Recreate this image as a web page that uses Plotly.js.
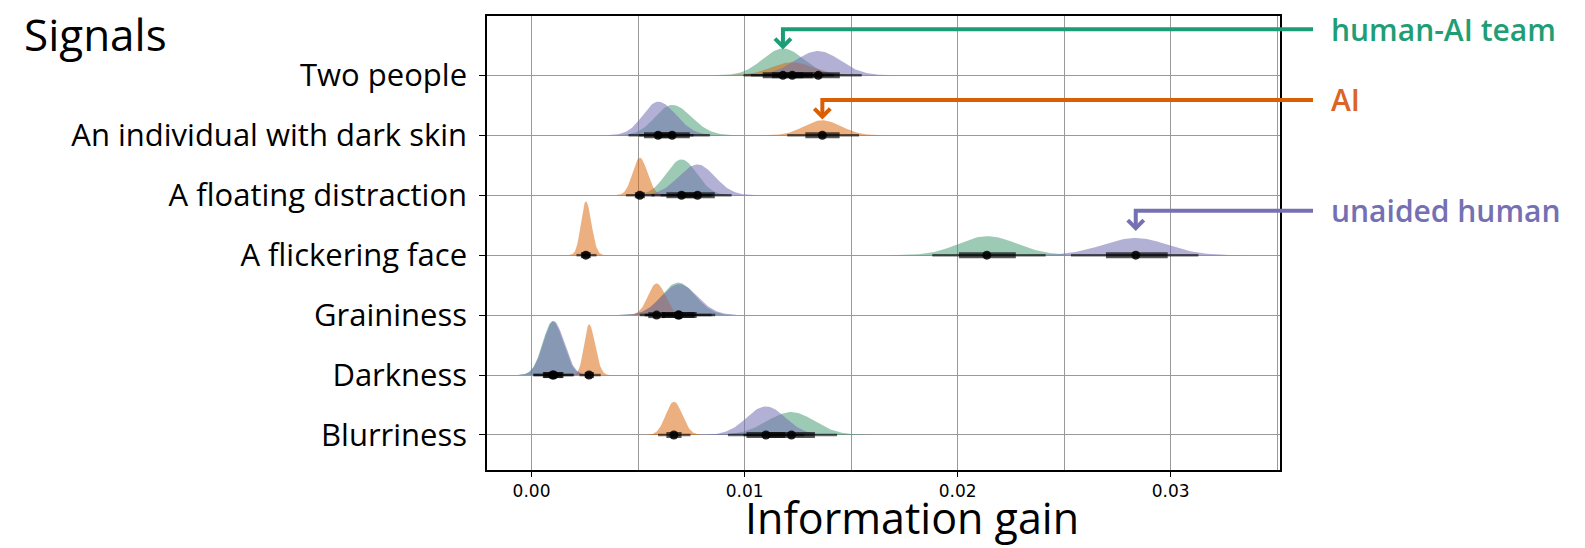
<!DOCTYPE html>
<html>
<head>
<meta charset="utf-8">
<script src="https://cdn.plot.ly/plotly-3.0.1.min.js"></script>
<style>
body { margin: 0; background: #fff; }
#signals-viz { width: 1585px; height: 548px; }
</style>
</head>
<body>
<div id="signals-viz"></div>
<script>
// signals, bottom row first
var signals = ['Blurriness', 'Darkness', 'Graininess', 'A flickering face',
               'A floating distraction', 'An individual with dark skin', 'Two people'];

// information gain: median, 95% and 66% intervals
var team_med  = [0.0122, 0.00099, 0.00688, 0.02137, 0.00704, 0.0066, 0.0118];
var team_lo95 = [0.00995, 0.00008, 0.00535, 0.01881, 0.00563, 0.00505, 0.00995];
var team_hi95 = [0.01434, 0.00195, 0.00845, 0.02413, 0.00845, 0.00837, 0.0137];
var team_lo66 = [0.0111, 0.00053, 0.00612, 0.02006, 0.00633, 0.00585, 0.01085];
var team_hi66 = [0.0133, 0.00146, 0.00765, 0.02273, 0.00775, 0.00743, 0.01275];

var ai_med  = [0.00668, 0.0027, 0.00587, 0.00255, 0.00508, 0.01365, 0.01224];
var ai_lo95 = [0.00594, 0.00225, 0.00508, 0.00211, 0.00443, 0.012, 0.0103];
var ai_hi95 = [0.00746, 0.00325, 0.00668, 0.00305, 0.00578, 0.01537, 0.0142];
var ai_lo66 = [0.00633, 0.0025, 0.00548, 0.00232, 0.00485, 0.01285, 0.01128];
var ai_hi66 = [0.00704, 0.00293, 0.00626, 0.00278, 0.00532, 0.01446, 0.0132];

var human_med  = [0.011, 0.00104, 0.00693, 0.02836, 0.00779, 0.00594, 0.01346];
var human_lo95 = [0.00922, 0.0001, 0.0053, 0.02532, 0.00606, 0.00455, 0.0113];
var human_hi95 = [0.0128, 0.002, 0.00862, 0.0313, 0.00939, 0.0076, 0.0155];
var human_lo66 = [0.01009, 0.00056, 0.00612, 0.02696, 0.00697, 0.00528, 0.0124];
var human_hi66 = [0.0119, 0.0015, 0.00775, 0.02986, 0.0086, 0.0067, 0.01447];

var groups = [
	{ name: 'human-AI team', color: '#1b9e77', fill: 'rgba(59,150,108,0.5)', label: '#1f9e76',
	  med: team_med, lo95: team_lo95, hi95: team_hi95, lo66: team_lo66, hi66: team_hi66 },
	{ name: 'AI', color: '#d95f02', fill: 'rgba(217,95,2,0.5)', label: '#dc6424',
	  med: ai_med, lo95: ai_lo95, hi95: ai_hi95, lo66: ai_lo66, hi66: ai_hi66 },
	{ name: 'unaided human', color: '#7570b3', fill: 'rgba(117,112,179,0.55)', label: '#7570b3',
	  med: human_med, lo95: human_lo95, hi95: human_hi95, lo66: human_lo66, hi66: human_hi66 }
];

var xRange = [-0.00209, 0.03513];
var yRange = [-0.584, 6.99];
var FONT = '"Open Sans", "Noto Sans", sans-serif';

// half-eye density for one signal; equal area within a group, tallest = 0.9 of a row
function halfEye(g, i, k) {
	var med = g.med[i];
	var sdL = (med - g.lo95[i]) / 1.96, sdR = (g.hi95[i] - med) / 1.96;
	var peak = k / (sdL + sdR);
	var xs = [], ys = [], n = 50, z;
	for (var j = 0; j <= n; j++) {
		z = -3.5 + 3.5 * j / n;
		xs.push(med + z * sdL); ys.push(i + peak * Math.exp(-z * z / 2));
	}
	for (j = 1; j <= n; j++) {
		z = 3.5 * j / n;
		xs.push(med + z * sdR); ys.push(i + peak * Math.exp(-z * z / 2));
	}
	return {
		x: xs, y: ys, type: 'scatter', mode: 'lines', fill: 'toself',
		fillcolor: g.fill, line: { width: 0 }, hoverinfo: 'none', showlegend: false
	};
}

var data = [];
groups.forEach(function(g) {
	var minW = Infinity;
	g.med.forEach(function(m, i) {
		minW = Math.min(minW, (m - g.lo95[i]) / 1.96 + (g.hi95[i] - m) / 1.96);
	});
	var k = 0.9 * minW;
	g.med.forEach(function(m, i) { data.push(halfEye(g, i, k)); });
});

// point intervals on top
groups.forEach(function(g) {
	var x95 = [], y95 = [], x66 = [], y66 = [], ypt = [];
	g.med.forEach(function(m, i) {
		x95.push(g.lo95[i], g.hi95[i], null); y95.push(i, i, null);
		x66.push(g.lo66[i], g.hi66[i], null); y66.push(i, i, null);
		ypt.push(i);
	});
	data.push({ x: x95, y: y95, type: 'scatter', mode: 'lines', hoverinfo: 'none', showlegend: false,
		line: { color: 'rgba(0,0,0,0.6)', width: 2.5 } });
	data.push({ x: x66, y: y66, type: 'scatter', mode: 'lines', hoverinfo: 'none', showlegend: false,
		line: { color: 'rgba(0,0,0,0.65)', width: 6 } });
	data.push({ x: g.med, y: ypt, type: 'scatter', mode: 'markers', hoverinfo: 'none', showlegend: false,
		marker: { color: 'rgba(0,0,0,0.85)', size: 9 } });
});

// callout arrows: which signal each label points at, and where the elbow sits
var callouts = [
	{ g: 0, row: 6, yLine: 6.77, yTip: 6.48 },
	{ g: 1, row: 5, yLine: 5.59, yTip: 5.31 },
	{ g: 2, row: 3, yLine: 3.74, yTip: 3.45 }
];
var plotW = 793, plotH = 454;
function px(x) { return (x - xRange[0]) / (xRange[1] - xRange[0]); }
function py(y) { return (y - yRange[0]) / (yRange[1] - yRange[0]); }

var shapes = [], annotations = [];
callouts.forEach(function(c) {
	var g = groups[c.g];
	var xa = px(g.med[c.row]), yl = py(c.yLine), yt = py(c.yTip);
	var xEnd = 1 + 33 / plotW;
	var ax = 8 / plotW, ay = 8 / plotH;
	shapes.push({ type: 'path', xref: 'paper', yref: 'paper', layer: 'above',
		path: 'M ' + xEnd + ',' + yl + ' L ' + xa + ',' + yl + ' L ' + xa + ',' + yt,
		line: { color: g.color, width: 4 } });
	shapes.push({ type: 'path', xref: 'paper', yref: 'paper', layer: 'above',
		path: 'M ' + (xa - ax) + ',' + (yt + ay) + ' L ' + xa + ',' + yt + ' L ' + (xa + ax) + ',' + (yt + ay),
		line: { color: g.color, width: 4 } });
	annotations.push({ xref: 'paper', yref: 'paper', x: 1 + 49 / plotW, y: yl,
		xanchor: 'left', yanchor: 'middle', showarrow: false, text: g.name,
		font: { family: FONT, size: 30, color: g.label, weight: 600 } });
});

annotations.push({ xref: 'paper', yref: 'paper', x: 0.536, y: -0.104,
	xanchor: 'center', yanchor: 'middle', showarrow: false, text: 'Information gain',
	font: { family: FONT, size: 43, color: '#000' } });

var layout = {
	width: 1585, height: 548,
	margin: { l: 487, r: 305, t: 16, b: 78 },
	paper_bgcolor: '#fff', plot_bgcolor: '#fff',
	title: { text: 'Signals', xref: 'container', yref: 'container', x: 24 / 1585, xanchor: 'left',
		y: 1 - 36 / 548, yanchor: 'middle', font: { family: FONT, size: 44, color: '#000' } },
	xaxis: {
		range: xRange, tick0: 0, dtick: 0.01, tickformat: '.2f',
		showgrid: true, gridcolor: '#999', gridwidth: 1,
		minor: { tick0: 0, dtick: 0.005, showgrid: true, gridcolor: '#999', gridwidth: 1 },
		ticks: 'outside', ticklen: 5, tickcolor: '#000',
		showline: true, mirror: true, linecolor: '#000', linewidth: 1.5, zeroline: false,
		tickfont: { family: 'DejaVu Sans', size: 17, color: '#000' }
	},
	yaxis: {
		range: yRange, tickvals: signals.map(function(s, i) { return i; }), ticktext: signals,
		showgrid: true, gridcolor: '#999', gridwidth: 1,
		ticks: 'outside', ticklen: 6, tickcolor: '#000', ticklabelstandoff: 6,
		showline: true, mirror: true, linecolor: '#000', linewidth: 1.5, zeroline: false,
		tickfont: { family: FONT, size: 31, color: '#000' }
	},
	shapes: shapes,
	annotations: annotations
};

Plotly.newPlot('signals-viz', data, layout, { displayModeBar: false });
</script>
</body>
</html>
